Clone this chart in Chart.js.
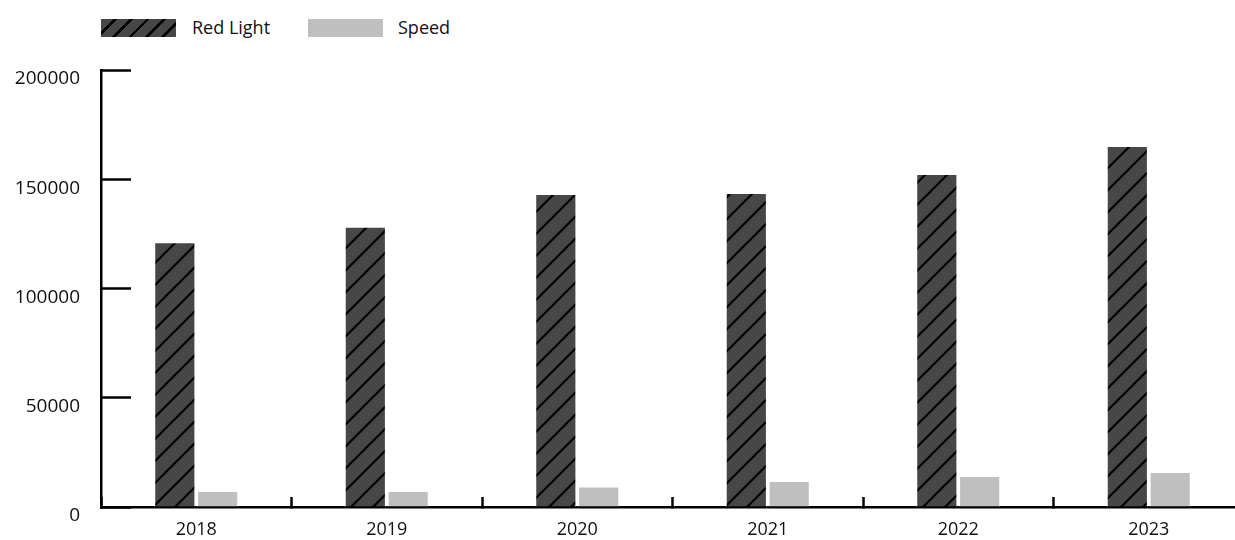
<!DOCTYPE html>
<html>
<head>
<meta charset="utf-8">
<script src="https://cdn.jsdelivr.net/npm/chart.js@4/dist/chart.umd.min.js"></script>
<style>
  body { margin: 0; width: 1235px; height: 540px; overflow: hidden; background: #fff; position: relative; font-family: "Open Sans", sans-serif; }
  #chart { position: absolute; left: 0; top: 0; }
  .legend-box { position: absolute; top: 19px; width: 75px; height: 18px; }
  .legend-text { position: absolute; top: 14px; font-size: 18px; line-height: 26px; color: #111; }
  #boxRed { left: 101px; background: repeating-linear-gradient(135deg, #474747 0 9px, #000 9px 11.5px); }
  #boxSpeed { left: 308px; background: #bfbfbf; }
</style>
</head>
<body>
<div class="legend-box" id="boxRed"></div>
<div class="legend-text" style="left:192px">Red Light</div>
<div class="legend-box" id="boxSpeed"></div>
<div class="legend-text" style="left:398px">Speed</div>
<canvas id="chart" width="1244" height="540"></canvas>
<script>
// values
const years = ['2018', '2019', '2020', '2021', '2022', '2023'];
const redLight = [121200, 128300, 143200, 143700, 152400, 165200];
const speed = [7300, 7300, 9400, 11900, 14200, 16000];
const yTicks = [0, 50000, 100000, 150000, 200000];

// hatched fill for the red light bars
function makeHatch() {
  const size = 22;
  const c = document.createElement('canvas');
  c.width = size;
  c.height = size;
  const g = c.getContext('2d');
  g.fillStyle = '#474747';
  g.fillRect(0, 0, size, size);
  g.strokeStyle = '#000';
  g.lineWidth = 2.2;
  g.beginPath();
  g.moveTo(0, size); g.lineTo(size, 0);
  g.moveTo(-size / 2, size / 2); g.lineTo(size / 2, -size / 2);
  g.moveTo(size / 2, size * 1.5); g.lineTo(size * 1.5, size / 2);
  g.stroke();
  return g.createPattern(c, 'repeat');
}

const canvas = document.getElementById('chart');
const ctx = canvas.getContext('2d');

new Chart(ctx, {
  type: 'bar',
  data: {
    labels: years,
    datasets: [{
      label: 'Red Light',
      data: redLight,
      backgroundColor: makeHatch(),
      borderColor: '#ffffff',
      borderWidth: 1,
      barPercentage: 0.96,
      categoryPercentage: 0.45
    }, {
      label: 'Speed',
      data: speed,
      backgroundColor: '#bfbfbf',
      borderColor: '#ffffff',
      borderWidth: 1,
      barPercentage: 0.96,
      categoryPercentage: 0.45
    }]
  },
  options: {
    responsive: false,
    animation: false,
    devicePixelRatio: 1,
    layout: { padding: { top: 70, right: 0, left: 0, bottom: 0 } },
    plugins: {
      legend: { display: false },
      tooltip: { enabled: false }
    },
    scales: {
      x: {
        grid: {
          offset: true,
          drawOnChartArea: false,
          drawTicks: true,
          tickLength: -10,
          tickColor: '#000',
          tickWidth: 2.5
        },
        border: { color: '#000', width: 2.5 },
        ticks: {
          color: '#111',
          padding: 22,
          font: { family: 'Open Sans', size: 18 }
        },
        afterFit: (scale) => {
          scale.height = 33;
          scale.paddingLeft = 0;
          scale.paddingRight = 0;
        }
      },
      y: {
        min: 0,
        max: 200000,
        afterBuildTicks: (scale) => { scale.ticks = yTicks.map(v => ({ value: v })); },
        grid: {
          drawOnChartArea: false,
          drawTicks: true,
          tickLength: -30,
          tickColor: '#000',
          tickWidth: 2.5
        },
        border: { color: '#000', width: 2.5 },
        ticks: {
          color: '#111',
          padding: 51,
          labelOffset: 9,
          callback: (v) => String(v),
          font: { family: 'Open Sans', size: 19 }
        },
        afterFit: (scale) => {
          scale.width = 101;
          scale.paddingTop = 0;
          scale.paddingBottom = 0;
        }
      }
    }
  }
});
</script>
</body>
</html>
